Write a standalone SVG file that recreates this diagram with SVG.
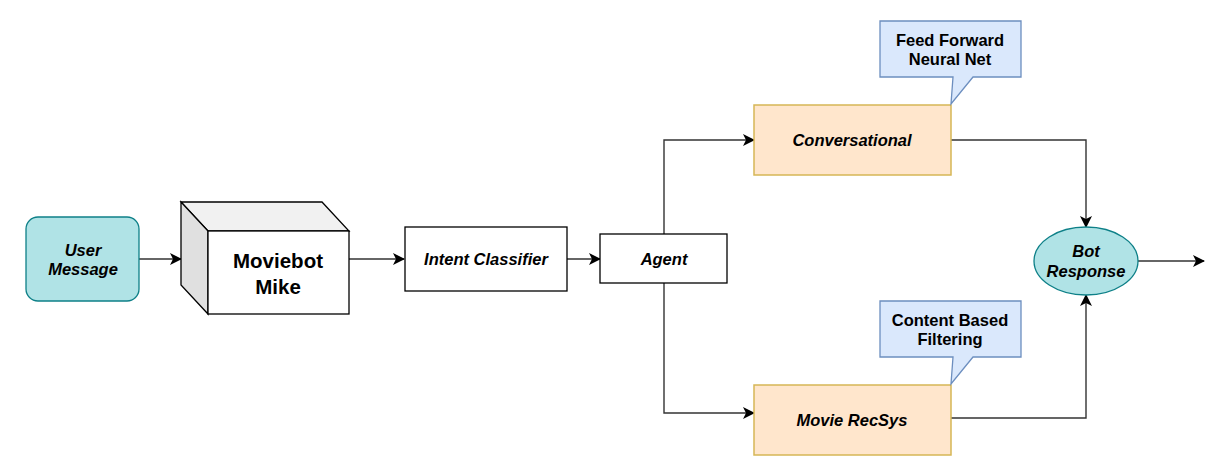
<svg xmlns="http://www.w3.org/2000/svg" width="1229" height="475" viewBox="0 0 1229 475">
<style>
text{font-family:"Liberation Sans",Arial,sans-serif;font-weight:bold;fill:#000;text-anchor:middle}
.it{font-style:italic;font-size:16.5px}
.cl{font-size:16.5px}
.box{fill:#fff;stroke:#000;stroke-width:1.3}
.orange{fill:#ffe6cc;stroke:#d6b656;stroke-width:1.5}
.teal{fill:#b0e3e6;stroke:#0e8088;stroke-width:1.3}
.callout{fill:#dae8fc;stroke:#6c8ebf;stroke-width:1.3}
.edge{fill:none;stroke:#333;stroke-width:1.4;marker-end:url(#arr)}
</style>
<defs>
<marker id="arr" viewBox="0 0 12 12" refX="11" refY="6" markerWidth="12" markerHeight="12" markerUnits="userSpaceOnUse" orient="auto">
<path d="M0,0 L12,6 L0,12 L3,6 Z" fill="#000"/>
</marker>
</defs>
<rect width="1229" height="475" fill="#fff"/>
<g id="connectors">
<path class="edge" d="M139,259 H181"/>
<path class="edge" d="M349,259 H404"/>
<path class="edge" d="M567,259 H600"/>
<path class="edge" d="M664,234 V140 H754"/>
<path class="edge" d="M664,283 V413 H754"/>
<path class="edge" d="M951,140 H1086 V227"/>
<path class="edge" d="M951,418 H1086 V295"/>
<path class="edge" d="M1138,261 H1204"/>
</g>
<g id="user-message">
<rect class="teal" x="26" y="217" width="113" height="84" rx="12"/>
<text class="it" x="83" y="256">User</text>
<text class="it" x="83" y="275">Message</text>
</g>
<g id="moviebot-mike">
<path d="M181,202 H322 L349,231 H208 Z" fill="#f1f1f1" stroke="#000" stroke-width="1.3"/>
<path d="M181,202 L208,231 V314 L181,285 Z" fill="#e0e0e0" stroke="#000" stroke-width="1.3"/>
<rect class="box" x="208" y="231" width="141" height="83"/>
<text x="278" y="268" font-size="20.5">Moviebot</text>
<text x="278" y="294" font-size="20.5">Mike</text>
</g>
<g id="intent-classifier">
<rect class="box" x="405" y="227" width="162" height="64"/>
<text class="it" x="486" y="265">Intent Classifier</text>
</g>
<g id="agent">
<rect class="box" x="600" y="234" width="127" height="49"/>
<text class="it" x="664" y="265">Agent</text>
</g>
<g id="conversational">
<rect class="orange" x="754" y="105" width="197" height="70"/>
<text class="it" x="852" y="146">Conversational</text>
</g>
<g id="movie-recsys">
<rect class="orange" x="754" y="385" width="197" height="70"/>
<text class="it" x="852" y="426">Movie RecSys</text>
</g>
<g id="callout-ffnn">
<path class="callout" d="M880,21 H1021 V77 H973 L951,104 L953,77 H880 Z"/>
<text class="cl" x="950" y="46">Feed Forward</text>
<text class="cl" x="950" y="65">Neural Net</text>
</g>
<g id="callout-cbf">
<path class="callout" d="M880,301 H1021 V357 H973 L951,384 L953,357 H880 Z"/>
<text class="cl" x="950" y="326">Content Based</text>
<text class="cl" x="950" y="345">Filtering</text>
</g>
<g id="bot-response">
<ellipse class="teal" cx="1086" cy="261" rx="52" ry="34"/>
<text class="it" x="1086" y="257">Bot</text>
<text class="it" x="1086" y="277">Response</text>
</g>
</svg>
